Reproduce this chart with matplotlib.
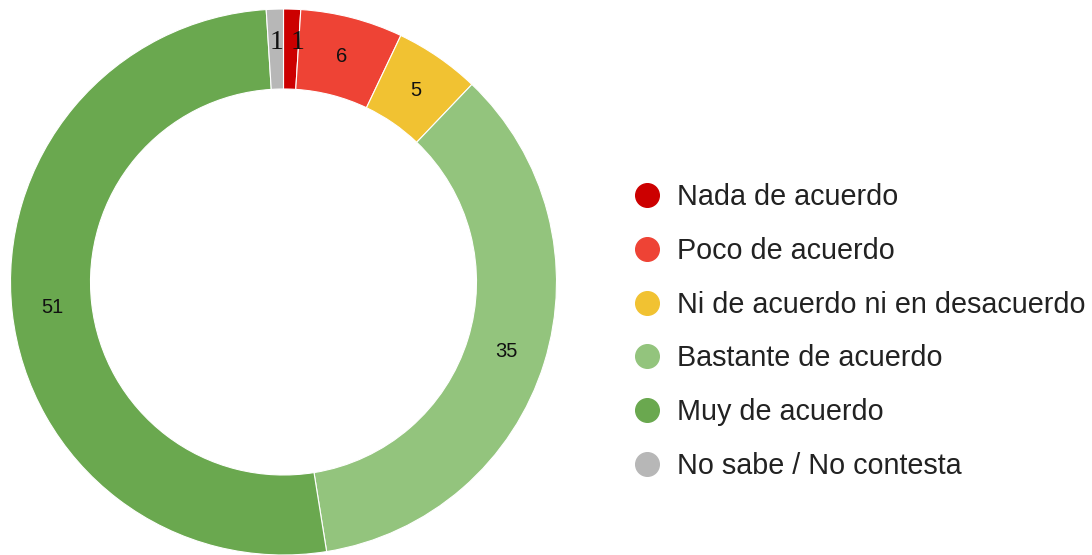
import matplotlib
matplotlib.use("Agg")
import matplotlib.pyplot as plt
from matplotlib.lines import Line2D

categories = ["Nada de acuerdo", "Poco de acuerdo", "Ni de acuerdo ni en desacuerdo",
              "Bastante de acuerdo", "Muy de acuerdo", "No sabe / No contesta"]
values = [1, 6, 5, 35, 51, 1]
colors = ["#cc0000", "#ee4335", "#f1c232", "#93c47d", "#6aa84f", "#b7b7b7"]

W, H = 1092, 555
fig = plt.figure(figsize=(W / 100, H / 100), dpi=100)

# donut: center (283, 282), outer radius 273 px
cx, cy, R = 283.5, 282, 273
ax = fig.add_axes([(cx - R) / W, (H - cy - R) / H, 2 * R / W, 2 * R / H])
total = sum(values)
wedges, texts, autotexts = ax.pie(
    values, colors=colors, startangle=90, counterclock=False, radius=1,
    wedgeprops=dict(width=80 / 273, edgecolor="white", linewidth=0.8),
    autopct=lambda p: f"{round(p * total / 100)}", pctdistance=1 - 40 / 273,
    textprops=dict(fontsize=14.5, family="Liberation Sans", color="#111111"))
# the tiny slices get a serif label sitting on the ring's midline
for i, (t, v) in enumerate(zip(autotexts, values)):
    if v == 1:
        t.set_family("Liberation Serif")
        t.set_fontsize(20)
        t.set_va("baseline")
        if i == 0:
            t.set_ha("left")
ax.set_xlim(-1, 1)
ax.set_ylim(-1, 1)
ax.set_aspect("equal")
ax.axis("off")

handles = [Line2D([], [], marker="o", linestyle="", markersize=17,
                  markerfacecolor=c, markeredgecolor=c) for c in colors]
fig.legend(handles, categories, loc="upper left", bbox_to_anchor=(630 / W, 1 - 183 / H),
           frameon=False, prop=dict(family="Liberation Sans", size=20.7),
           labelcolor="#222222", labelspacing=0.898, handletextpad=0.435,
           handlelength=1.2, borderaxespad=0, borderpad=0)

fig.savefig("out.png", dpi=100)
